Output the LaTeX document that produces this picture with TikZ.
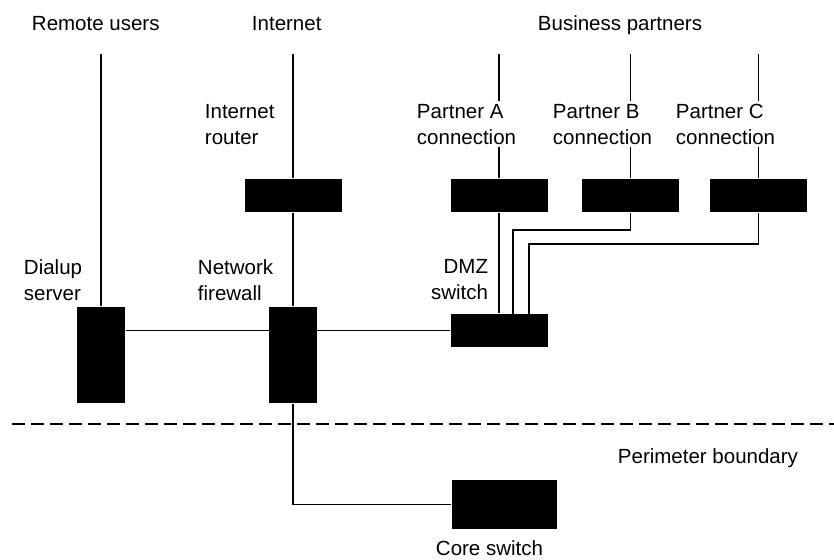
\documentclass[tikz,border=0pt]{standalone}
\usepackage{fontspec}
\setmainfont{Liberation Sans}

\begin{document}
\begin{tikzpicture}[x=1pt,y=-1pt,line width=1.9pt,
    box/.style={fill=black,inner sep=0pt,minimum width=97pt,minimum height=33pt},
    tall box/.style={box,minimum width=48pt,minimum height=96pt},
    txt/.style={font=\fontsize{20.5pt}{26pt}\selectfont,inner sep=0pt,align=left,anchor=north west},
    knockout/.style={fill=white,inner sep=3pt},
    boundary/.style={dash pattern=on 13pt off 6pt}]
            \useasboundingbox (0,0) rectangle (834,559);

            \node[tall box] (dialup) at (101,355) {};
            \node[tall box] (firewall) at (293,355) {};
            \node[box] (router) at (293,195.5) {};
            \node[box] (partA) at (499,195.5) {};
            \node[box] (partB) at (630.5,195.5) {};
            \node[box] (partC) at (758.5,195.5) {};
            \node[box] (dmz) at (499,330.5) {};
            \node[box,minimum width=105pt,minimum height=49pt] (core) at (504.5,504.5) {};

            \coordinate (feed) at (0,54);
            \coordinate (bnd west) at (12,424);
            \coordinate (bnd east) at (834,424);

            \path
                (dialup |- feed) edge (dialup)
                (router |- feed) edge (router)
                (partA |- feed) edge (partA)
                (partB |- feed) edge (partB)
                (partC |- feed) edge (partC)
                (router) edge (firewall)
                (partA) edge (dmz)
                (dialup.east |- dmz) edge (dmz)
             ;
            \draw (firewall) |- (core);
            \draw (partB) -- ++(0,34.5) -| ([xshift=14pt]dmz.center);
            \draw (partC) -- ++(0,48.5) -| ([xshift=30pt]dmz.center);
            \draw[boundary] (bnd west) -- (bnd east);

            \node[txt] (remote lbl) at (31,15) {Remote users};
            \node[txt] (inet lbl) at (251,15) {Internet};
            \node[txt] (biz lbl) at (537,15) {Business partners};
            \node[txt] (router lbl) at (204,103) {Internet\\router};
            \node[txt,knockout] (partA lbl) at (413,100) {Partner A\\connection};
            \node[txt,knockout] (partB lbl) at (549,100) {Partner B\\connection};
            \node[txt,knockout] (partC lbl) at (672,100) {Partner C\\connection};
            \node[txt] (dialup lbl) at (23,259) {Dialup\\server};
            \node[txt] (firewall lbl) at (197,259) {Network\\firewall};
            \node[txt,anchor=north east,align=right] (dmz lbl) at (489,258) {DMZ\\switch};
            \node[txt] (bnd lbl) at (617,448) {Perimeter boundary};
            \node[txt] (core lbl) at (435,540) {Core switch};
\end{tikzpicture}
\end{document}
